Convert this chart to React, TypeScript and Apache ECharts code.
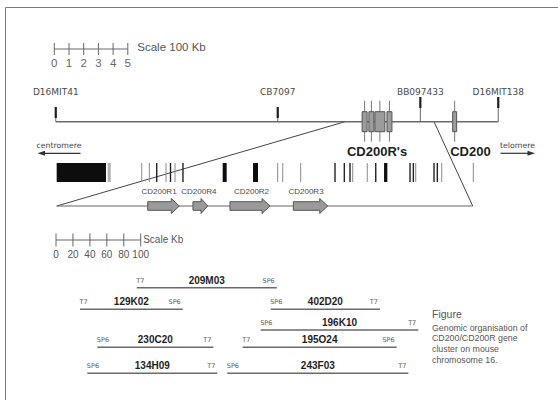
import React, { useEffect, useRef } from "react";
import * as echarts from "echarts";

// ---- Physical map of the chromosome 16 interval (units of 100 kb) ----
const mapScaleTicks = [0, 1, 2, 3, 4, 5];
const markerNames = ["D16MIT41", "CB7097", "BB097433", "D16MIT138"];
const markerPos = [0.1, 15.2, 24.9, 30.2];
const chromosomeSpan = [0.1, 30.2];
const cd200rExons = [
  [20.94, 21.28],
  [21.4, 21.74],
  [21.81, 22.49],
  [22.63, 22.97],
];
const cd200Exon = [27.1, 27.37];
const clusterNames = ["CD200R's", "CD200"];
const expandedSpan = [19.78, 25.83];

// ---- Expanded CD200R region (kb) ----
const kbScaleTicks = [0, 20, 40, 60, 80, 100];
const regionSpan = [0.8, 492];
const solidBlocks = [
  [0.8, 59],
  [196.8, 201.5],
  [232.6, 238.5],
  [387.3, 391.2],
];
const faintBlocks = [[61, 64.6]];
const darkSites = [118.9, 135.2, 149.9, 329.4, 340.4, 347.1, 377.5, 418, 421.9, 446.3, 450.2];
const lightSites = [101.2, 110.2, 129.9, 140.5, 261.7, 267.7, 288.9, 350.3, 367.5, 424.7, 455.4, 492.7];
const geneNames = ["CD200R1", "CD200R4", "CD200R2", "CD200R3"];
const geneSpans = [
  [108.3, 145.6],
  [161.7, 179.1],
  [205.4, 252.7],
  [280.2, 320.8],
];

// ---- BAC clones covering the region (kb) ----
const cloneNames = ["209M03", "129K02", "402D20", "196K10", "230C20", "195O24", "134H09", "243F03"];
const cloneStart = [95.3, 28.3, 253.5, 241.7, 48.8, 220.4, 37, 202.2];
const cloneEnd = [260.6, 149.6, 382.5, 427.7, 185.7, 402.2, 190.4, 416];
const cloneLeftEnd = ["T7", "T7", "SP6", "SP6", "SP6", "T7", "SP6", "SP6"];
const cloneRightEnd = ["SP6", "SP6", "T7", "T7", "T7", "SP6", "T7", "T7"];
const cloneLane = [0, 1, 1, 2, 3, 3, 4, 4];

const captionTitle = "Figure";
const captionLines = ["Genomic organisation of", "CD200/CD200R gene", "cluster on mouse", "chromosome 16."];

// ---- layout (vertical rows and label nudges, px) ----
const Y = {
  mapScale: 49,
  mapScaleLabel: 63,
  markerLabel: 92,
  markerTickTop: [107, 107, 97, 97],
  chromosome: 121.7,
  exonTop: 111.7,
  exonBottom: 131.7,
  stemTop: 100.7,
  stemBottom: 141.7,
  clusterLabel: 151.7,
  siteTop: 163,
  siteBottom: 182,
  geneLabel: 191.7,
  geneLine: 206,
  kbScale: 240,
  kbScaleLabel: 254,
  cloneLanes: [287.7, 309.3, 330, 347.3, 373.3],
};
const geneLabelNudge = [-4.5, -1.5, 1.5, -4.5];

const INK = "#1e1e1e";
const LINE = "#666";
const TEXT = "#444";
const SANS = "'Liberation Sans', Arial, sans-serif";
const SMALL = "'DejaVu Sans', 'Liberation Sans', sans-serif";

function text(x: number, y: number, s: string, size: number, o: any = {}) {
  const align = o.align ?? "center";
  return {
    type: "text",
    x,
    y,
    silent: true,
    style: {
      text: s,
      fill: o.fill ?? TEXT,
      fontSize: size,
      fontFamily: o.family ?? SANS,
      fontWeight: o.weight ?? "normal",
      align,
      textAlign: align,
      verticalAlign: "middle",
      textVerticalAlign: "middle",
    },
  };
}

function seg(x1: number, y1: number, x2: number, y2: number, stroke = LINE, lineWidth = 1) {
  return { type: "line", silent: true, shape: { x1, y1, x2, y2 }, style: { stroke, lineWidth } };
}

function custom(grid: number, data: any[], renderItem: any) {
  return {
    type: "custom",
    xAxisIndex: grid,
    yAxisIndex: grid,
    data,
    renderItem,
    silent: true,
    animation: false,
  };
}

function buildOption() {
  const last = <T,>(a: T[]) => a[a.length - 1];
  return {
    animation: false,
    backgroundColor: "#fff",
    grid: [
      { left: 54.3, top: 0, width: 470.4, height: 400, outerBoundsMode: "none" },
      { left: 56, top: 0, width: 508.2, height: 400, outerBoundsMode: "none" },
    ],
    xAxis: [
      { type: "value", gridIndex: 0, min: 0, max: 32, show: false },
      { type: "value", gridIndex: 1, min: 0, max: 600, show: false },
    ],
    yAxis: [
      { type: "value", gridIndex: 0, min: 0, max: 400, inverse: true, show: false },
      { type: "value", gridIndex: 1, min: 0, max: 400, inverse: true, show: false },
    ],
    series: [
      // map scale bar (100 kb units)
      custom(0, [[mapScaleTicks[0], last(mapScaleTicks)]], (p: any, api: any) => {
        const [x0] = api.coord([api.value(0), 0]);
        const [x1] = api.coord([api.value(1), 0]);
        return {
          type: "group",
          children: [
            seg(x0, Y.mapScale, x1, Y.mapScale, LINE, 1),
            text(x1 + 9.5, Y.mapScale - 2, "Scale 100 Kb", 11.5, { align: "left", fill: "#555" }),
          ],
        };
      }),
      custom(0, mapScaleTicks.map((t) => [t, 0]), (p: any, api: any) => {
        const [x] = api.coord([api.value(0), 0]);
        return {
          type: "group",
          children: [
            seg(x, Y.mapScale - 6, x, Y.mapScale + 6, LINE, 1),
            text(x, Y.mapScaleLabel, String(mapScaleTicks[p.dataIndex]), 11.5, { fill: "#666" }),
          ],
        };
      }),
      // chromosome
      custom(0, [chromosomeSpan], (p: any, api: any) => {
        const [x0, y] = api.coord([api.value(0), Y.chromosome]);
        const [x1] = api.coord([api.value(1), Y.chromosome]);
        return seg(x0, y, x1, y, "#6a6a6a", 1.4);
      }),
      // genetic markers
      custom(0, markerPos.map((m) => [m, 0]), (p: any, api: any) => {
        const i = p.dataIndex;
        const [x] = api.coord([api.value(0), 0]);
        const top = Y.markerTickTop[i];
        return {
          type: "group",
          children: [
            seg(x, top + 11, x, Y.chromosome, LINE, 1),
            seg(x, top, x, top + 11, INK, 2.2),
            text(x, Y.markerLabel, markerNames[i], 9, { family: SMALL, fill: "#4a4a4a" }),
          ],
        };
      }),
      // exons of the CD200R cluster and CD200
      custom(0, [...cd200rExons, cd200Exon], (p: any, api: any) => {
        const [x0] = api.coord([api.value(0), 0]);
        const [x1] = api.coord([api.value(1), 0]);
        const xc = (x0 + x1) / 2;
        return {
          type: "group",
          children: [
            seg(xc, Y.stemTop, xc, Y.stemBottom, "#777", 1),
            {
              type: "rect",
              shape: { x: x0, y: Y.exonTop, width: x1 - x0, height: Y.exonBottom - Y.exonTop },
              style: { fill: "#9c9c9c", stroke: "#555", lineWidth: 1 },
            },
          ],
        };
      }),
      custom(
        0,
        [
          [cd200rExons[0][0], last(cd200rExons)[1]],
          [cd200Exon[0], cd200Exon[1]],
        ],
        (p: any, api: any) => {
          const [x0] = api.coord([api.value(0), 0]);
          const [x1] = api.coord([api.value(1), 0]);
          const name = clusterNames[p.dataIndex];
          return p.dataIndex === 0
            ? text((x0 + x1) / 2, Y.clusterLabel, name, 13, { weight: "bold", fill: INK })
            : text(x0 - 2.5, Y.clusterLabel, name, 13, { weight: "bold", fill: INK, align: "left" });
        }
      ),
      // expanded region: backbone line
      custom(1, [regionSpan], (p: any, api: any) => {
        const [x0, y] = api.coord([api.value(0), Y.geneLine]);
        const [x1] = api.coord([api.value(1), Y.geneLine]);
        return seg(x0, y, x1, y, LINE, 1.2);
      }),
      // kb scale bar
      custom(1, [[kbScaleTicks[0], last(kbScaleTicks)]], (p: any, api: any) => {
        const [x0] = api.coord([api.value(0), 0]);
        const [x1] = api.coord([api.value(1), 0]);
        return {
          type: "group",
          children: [
            seg(x0, Y.kbScale, x1, Y.kbScale, LINE, 1),
            text(x1 + 2.5, Y.kbScale - 1, "Scale Kb", 10, { align: "left", fill: "#555" }),
          ],
        };
      }),
      custom(1, kbScaleTicks.map((t) => [t, 0]), (p: any, api: any) => {
        const [x] = api.coord([api.value(0), 0]);
        return {
          type: "group",
          children: [
            seg(x, Y.kbScale - 6.5, x, Y.kbScale + 6.5, LINE, 1),
            text(x, Y.kbScaleLabel, String(kbScaleTicks[p.dataIndex]), 10, { fill: "#555" }),
          ],
        };
      }),
      // restriction map
      custom(1, faintBlocks, (p: any, api: any) => {
        const [x0] = api.coord([api.value(0), 0]);
        const [x1] = api.coord([api.value(1), 0]);
        return {
          type: "rect",
          shape: { x: x0, y: Y.siteTop, width: x1 - x0, height: Y.siteBottom - Y.siteTop },
          style: { fill: "#b0b0b0" },
        };
      }),
      custom(1, solidBlocks, (p: any, api: any) => {
        const [x0] = api.coord([api.value(0), 0]);
        const [x1] = api.coord([api.value(1), 0]);
        return {
          type: "rect",
          shape: { x: x0, y: Y.siteTop, width: x1 - x0, height: Y.siteBottom - Y.siteTop },
          style: { fill: "#0d0d0d" },
        };
      }),
      custom(1, lightSites.map((s) => [s, 0]), (p: any, api: any) => {
        const [x] = api.coord([api.value(0), 0]);
        return seg(x, Y.siteTop, x, Y.siteBottom, "#8a8a8a", 1);
      }),
      custom(1, darkSites.map((s) => [s, 0]), (p: any, api: any) => {
        const [x] = api.coord([api.value(0), 0]);
        return seg(x, Y.siteTop, x, Y.siteBottom, "#222", 1.4);
      }),
      // genes
      custom(1, geneSpans, (p: any, api: any) => {
        const [x0, ym] = api.coord([api.value(0), Y.geneLine]);
        const [x1] = api.coord([api.value(1), Y.geneLine]);
        const head = Math.min(8, (x1 - x0) * 0.45);
        const xh = x1 - head;
        const bt = ym - 4.3;
        const bb = ym + 4.3;
        const ht = ym - 7.5;
        const hb = ym + 7.5;
        return {
          type: "group",
          children: [
            {
              type: "polygon",
              shape: {
                points: [
                  [x0, bt],
                  [xh, bt],
                  [xh, ht],
                  [x1, ym],
                  [xh, hb],
                  [xh, bb],
                  [x0, bb],
                ],
              },
              style: { fill: "#9a9a9a", stroke: "#555", lineWidth: 1 },
            },
            text((x0 + x1) / 2 + geneLabelNudge[p.dataIndex], Y.geneLabel, geneNames[p.dataIndex], 8, {
              fill: "#4a4a4a",
            }),
          ],
        };
      }),
      // BAC clones
      custom(
        1,
        cloneStart.map((s, i) => [s, cloneEnd[i]]),
        (p: any, api: any) => {
          const i = p.dataIndex;
          const y = Y.cloneLanes[cloneLane[i]];
          const [x0] = api.coord([api.value(0), y]);
          const [x1] = api.coord([api.value(1), y]);
          return {
            type: "group",
            children: [
              seg(x0, y, x1, y, "#6a6a6a", 1.6),
              text(x0 - 0.5, y - 7, cloneLeftEnd[i], 6.5, { align: "left", family: SMALL, fill: "#5a5a5a" }),
              text((x0 + x1) / 2, y - 7.5, cloneNames[i], 10, { weight: "bold", fill: INK }),
              text(x1 - 2, y - 7, cloneRightEnd[i], 6.5, { align: "right", family: SMALL, fill: "#5a5a5a" }),
            ],
          };
        }
      ),
    ],
  };
}

function staticGraphics() {
  const els: any[] = [
    {
      type: "rect",
      silent: true,
      shape: { x: 5.5, y: 7.5, width: 600, height: 500 },
      style: { fill: "none", stroke: "#7a7a7a", lineWidth: 1 },
    },
    // orientation arrows
    text(59, 145, "centromere", 7.8, { family: SMALL, fill: "#444" }),
    seg(44, 153.3, 80.5, 153.3, "#333", 1.2),
    { type: "polygon", silent: true, shape: { points: [[37.5, 153.3], [45, 150.8], [45, 155.8]] }, style: { fill: "#333" } },
    text(517.5, 145, "telomere", 7.8, { family: SMALL, fill: "#444" }),
    seg(500.5, 153.3, 528, 153.3, "#333", 1.2),
    { type: "polygon", silent: true, shape: { points: [[535, 153.3], [527.5, 150.8], [527.5, 155.8]] }, style: { fill: "#333" } },
    // caption
    text(432, 314, captionTitle, 10.5, { align: "left", fill: "#555" }),
  ];
  captionLines.forEach((line, i) => {
    els.push(text(432, 327.7 + i * 10.7, line, 8.8, { align: "left", fill: "#555" }));
  });
  return els;
}

export default function App() {
  const ref = useRef<HTMLDivElement>(null);
  useEffect(() => {
    const chart = echarts.init(ref.current!, undefined, { renderer: "svg" });
    chart.setOption(buildOption() as any);
    // lines joining the chromosome interval to its expanded view
    const a0 = chart.convertToPixel({ gridIndex: 0 } as any, [expandedSpan[0], Y.chromosome]) as number[];
    const a1 = chart.convertToPixel({ gridIndex: 0 } as any, [expandedSpan[1], Y.chromosome]) as number[];
    const b0 = chart.convertToPixel({ gridIndex: 1 } as any, [regionSpan[0], Y.geneLine]) as number[];
    const b1 = chart.convertToPixel({ gridIndex: 1 } as any, [regionSpan[1], Y.geneLine]) as number[];
    chart.setOption({
      graphic: {
        elements: [
          ...staticGraphics(),
          seg(a0[0], a0[1], b0[0], b0[1], "#444", 1),
          seg(a1[0], a1[1], b1[0], b1[1], "#444", 1),
        ],
      },
    });
    return () => chart.dispose();
  }, []);
  return (
    <div
      ref={ref}
      style={{ position: "fixed", left: 0, top: 0, width: 558, height: 400, background: "#fff" }}
    />
  );
}
